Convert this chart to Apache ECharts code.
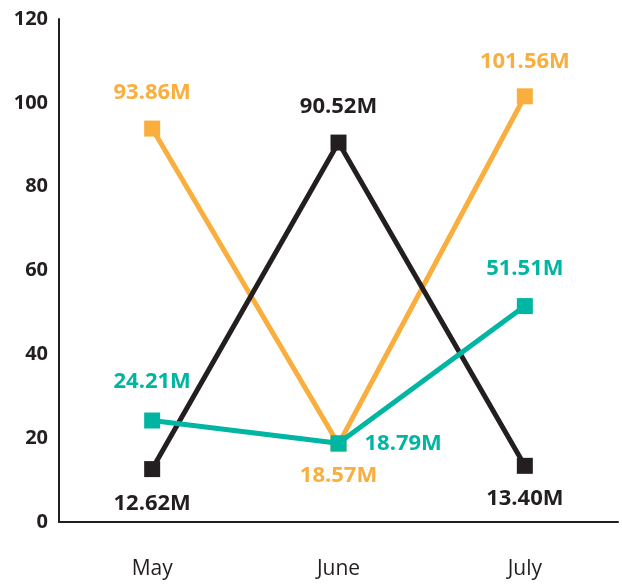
<!DOCTYPE html>
<html>
<head>
<meta charset="utf-8">
<script src="https://cdn.jsdelivr.net/npm/echarts@6/dist/echarts.min.js"></script>
<style>
  html, body { margin: 0; padding: 0; background: #fff; }
  #chart { width: 622px; height: 586px; }
</style>
</head>
<body>
<div id="chart"></div>
<script>
  // --- DATA ---
  const months = ['May', 'June', 'July'];
  const orangeVals = [93.86, 18.57, 101.56];
  const blackVals = [12.62, 90.52, 13.40];
  const tealVals = [24.21, 18.79, 51.51];
  const yTicks = [0, 20, 40, 60, 80, 100, 120];

  const COLORS = { orange: '#f9ae3d', black: '#231f20', teal: '#00b5a1' };
  const FONT = "'Open Sans', 'Noto Sans', sans-serif";

  // label placement per point: [position, distance]
  const orangePos = [['top', 17], ['bottom', 13], ['top', 16]];
  const blackPos = [['bottom', 16], ['top', 17], ['bottom', 14]];
  const tealPos = [['top', 20], ['right', 18], ['top', 18]];

  const makeSeries = (name, vals, color, pos) => ({
    name: name,
    type: 'line',
    data: vals.map((v, i) => ({
      value: v,
      label: { position: pos[i][0], distance: pos[i][1] }
    })),
    symbol: 'rect',
    symbolSize: 16,
    lineStyle: { width: 5, color: color },
    itemStyle: { color: color },
    label: {
      show: true,
      color: color,
      fontFamily: FONT,
      fontSize: 22,
      fontWeight: 'bold',
      formatter: p => p.value.toFixed(2) + 'M'
    },
    z: name === 'teal' ? 3 : 2
  });

  const chart = echarts.init(document.getElementById('chart'));
  chart.setOption({
    animation: false,
    grid: { left: 59, right: 4, top: 19, bottom: 64 },
    xAxis: {
      type: 'category',
      data: months,
      boundaryGap: true,
      axisLine: { lineStyle: { color: COLORS.black, width: 2 } },
      axisTick: { show: false },
      axisLabel: { color: '#231f20', fontFamily: FONT, fontSize: 21, margin: 37 }
    },
    yAxis: {
      type: 'value',
      min: yTicks[0],
      max: yTicks[yTicks.length - 1],
      interval: 20,
      axisLine: { show: true, lineStyle: { color: COLORS.black, width: 2 } },
      axisTick: { show: false },
      splitLine: { show: false },
      axisLabel: { color: '#231f20', fontFamily: FONT, fontSize: 20, fontWeight: 'bold', margin: 11 }
    },
    series: [
      makeSeries('orange', orangeVals, COLORS.orange, orangePos),
      makeSeries('black', blackVals, COLORS.black, blackPos),
      makeSeries('teal', tealVals, COLORS.teal, tealPos)
    ]
  });
</script>
</body>
</html>
